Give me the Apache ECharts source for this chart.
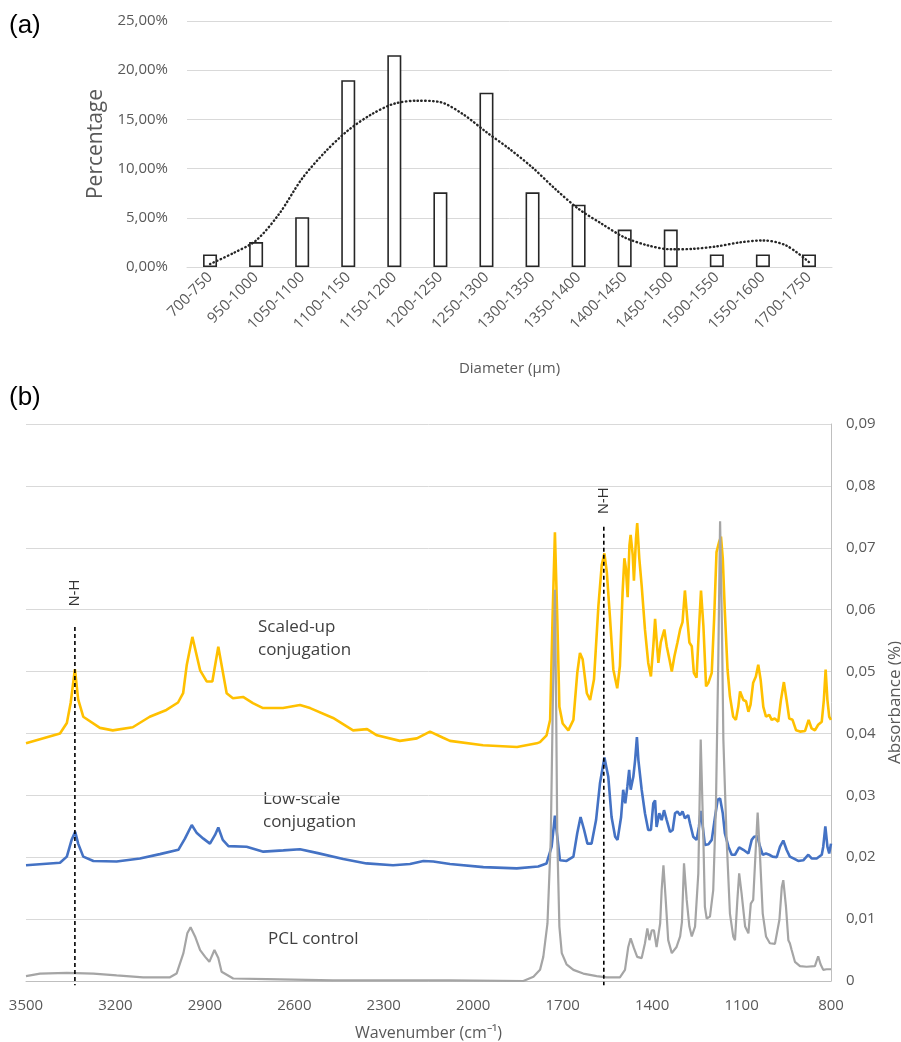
<!DOCTYPE html>
<html>
<head>
<meta charset="utf-8">
<title>Bead diameter and FTIR</title>
<script src="https://cdn.jsdelivr.net/npm/echarts@6/dist/echarts.min.js"></script>
<style>
  html, body { margin: 0; padding: 0; background: #fff; }
  #chart { width: 901px; height: 1042px; }
</style>
</head>
<body>
<div id="chart"></div>
<script>
// (a) diameter distribution
const diameterBins = ['700-750', '950-1000', '1050-1100', '1100-1150', '1150-1200', '1200-1250', '1250-1300',
  '1300-1350', '1350-1400', '1400-1450', '1450-1500', '1500-1550', '1550-1600', '1700-1750']
const binPercent = [1.27, 2.53, 5.06, 18.99, 21.52, 7.59, 17.72, 7.59, 6.33, 3.80, 3.80, 1.27, 1.27, 1.27]
// dotted trendline, read at every half category (position = category index)
const trendPos = [0, 0.5, 1, 1.5, 2, 2.5, 3, 3.5, 4, 4.5, 5, 5.5, 6, 6.5, 7, 7.5, 8, 8.5, 9, 9.5, 10, 10.5, 11, 11.5, 12, 12.5, 13]
const trendPercent = [0.3, 1.4, 2.7, 5.4, 9.0, 11.7, 13.9, 15.5, 16.6, 16.9, 16.75, 15.5, 13.7, 12.0, 10.1, 7.9,
  5.9, 4.4, 3.0, 2.2, 1.8, 1.85, 2.1, 2.5, 2.7, 2.2, 0.5]

// (b) FTIR spectra, [wavenumber, absorbance]
const scaledUp = [
  [3500, 0.0384], [3386, 0.0400], [3363, 0.0417], [3350, 0.0450], [3336, 0.0504], [3325, 0.0455], [3308, 0.0427],
  [3252, 0.0409], [3209, 0.0405], [3142, 0.0410], [3085, 0.0427], [3029, 0.0438], [2990, 0.0450], [2973, 0.0465],
  [2961, 0.0510], [2942, 0.0556], [2916, 0.0502], [2894, 0.0484], [2875, 0.0484], [2855, 0.0540], [2827, 0.0465],
  [2806, 0.0457], [2772, 0.0459], [2739, 0.0449], [2705, 0.0441], [2638, 0.0441], [2581, 0.0446], [2547, 0.0441],
  [2470, 0.0425], [2403, 0.0405], [2356, 0.0407], [2323, 0.0397], [2246, 0.0388], [2189, 0.0392], [2145, 0.0403],
  [2101, 0.0393], [2078, 0.0388], [1967, 0.0381], [1853, 0.0378], [1787, 0.0384], [1776, 0.0386], [1754, 0.0397],
  [1742, 0.0422], [1734, 0.0585], [1726, 0.0725], [1718, 0.0585], [1711, 0.0443], [1700, 0.0416], [1681, 0.0405],
  [1664, 0.0422], [1651, 0.0498], [1642, 0.0530], [1633, 0.0520], [1619, 0.0465], [1608, 0.0454], [1595, 0.0487],
  [1580, 0.0607], [1569, 0.0672], [1560, 0.0691], [1552, 0.0661], [1541, 0.0585], [1530, 0.0503], [1517, 0.0473],
  [1508, 0.0509], [1499, 0.0628], [1493, 0.0683], [1488, 0.0667], [1482, 0.0620], [1476, 0.0704], [1472, 0.0721],
  [1465, 0.0688], [1461, 0.0647], [1454, 0.0715], [1450, 0.0740], [1443, 0.0683], [1435, 0.0639], [1424, 0.0568],
  [1413, 0.0514], [1404, 0.0492], [1396, 0.0541], [1390, 0.0585], [1385, 0.0552], [1379, 0.0514], [1371, 0.0547],
  [1365, 0.0544], [1359, 0.0568], [1351, 0.0541], [1342, 0.0520], [1334, 0.0500], [1325, 0.0525], [1315, 0.0547],
  [1306, 0.0568], [1298, 0.0580], [1290, 0.0631], [1282, 0.0585], [1275, 0.0547], [1267, 0.0541], [1260, 0.0498],
  [1251, 0.0490], [1243, 0.0568], [1236, 0.0631], [1228, 0.0574], [1219, 0.0476], [1211, 0.0482], [1200, 0.0498],
  [1192, 0.0585], [1184, 0.0693], [1175, 0.0710], [1169, 0.0718], [1163, 0.0683], [1156, 0.0596], [1147, 0.0503],
  [1139, 0.0460], [1128, 0.0427], [1119, 0.0422], [1111, 0.0443], [1105, 0.0468], [1100, 0.0465], [1094, 0.0454],
  [1085, 0.0452], [1077, 0.0435], [1070, 0.0446], [1061, 0.0482], [1052, 0.0492], [1044, 0.0511], [1036, 0.0487],
  [1027, 0.0443], [1018, 0.0427], [1007, 0.0430], [999, 0.0422], [988, 0.0424], [977, 0.0419], [968, 0.0454],
  [958, 0.0483], [949, 0.0454], [940, 0.0424], [929, 0.0422], [917, 0.0405], [904, 0.0403], [887, 0.0404],
  [875, 0.0422], [865, 0.0408], [854, 0.0405], [843, 0.0414], [831, 0.0419], [824, 0.0454], [818, 0.0503],
  [812, 0.0454], [806, 0.0427], [800, 0.0422]
]
const lowScale = [
  [3500, 0.0187], [3386, 0.0191], [3363, 0.0201], [3347, 0.0228], [3335, 0.0241], [3325, 0.0222], [3308, 0.0201],
  [3274, 0.0194], [3196, 0.0193], [3118, 0.0198], [3051, 0.0205], [2989, 0.0212], [2967, 0.0230], [2944, 0.0252],
  [2927, 0.0239], [2905, 0.0230], [2883, 0.0222], [2866, 0.0236], [2855, 0.0248], [2840, 0.0228], [2821, 0.0218],
  [2760, 0.0217], [2704, 0.0209], [2637, 0.0211], [2581, 0.0213], [2525, 0.0207], [2436, 0.0197], [2358, 0.0190],
  [2269, 0.0187], [2212, 0.0189], [2167, 0.0194], [2134, 0.0193], [2078, 0.0189], [1966, 0.0184], [1854, 0.0182],
  [1782, 0.0185], [1754, 0.0190], [1737, 0.0217], [1726, 0.0267], [1718, 0.0233], [1709, 0.0195], [1687, 0.0194],
  [1664, 0.0201], [1651, 0.0239], [1640, 0.0265], [1628, 0.0244], [1617, 0.0222], [1603, 0.0222], [1588, 0.0260],
  [1575, 0.0319], [1560, 0.0361], [1547, 0.0330], [1536, 0.0265], [1524, 0.0233], [1516, 0.0228], [1504, 0.0265],
  [1497, 0.0309], [1490, 0.0287], [1483, 0.0314], [1477, 0.0341], [1472, 0.0309], [1463, 0.0330], [1457, 0.0357],
  [1451, 0.0394], [1446, 0.0357], [1435, 0.0309], [1424, 0.0271], [1413, 0.0244], [1404, 0.0244], [1396, 0.0287],
  [1390, 0.0292], [1385, 0.0249], [1376, 0.0271], [1368, 0.0260], [1360, 0.0276], [1351, 0.0260], [1340, 0.0241],
  [1331, 0.0244], [1323, 0.0271], [1315, 0.0274], [1306, 0.0268], [1298, 0.0274], [1290, 0.0263], [1279, 0.0268],
  [1273, 0.0255], [1262, 0.0233], [1251, 0.0228], [1243, 0.0249], [1237, 0.0275], [1230, 0.0249], [1223, 0.0220],
  [1211, 0.0221], [1200, 0.0228], [1189, 0.0265], [1180, 0.0293], [1172, 0.0295], [1163, 0.0271], [1156, 0.0239],
  [1144, 0.0217], [1133, 0.0204], [1122, 0.0204], [1108, 0.0216], [1094, 0.0212], [1077, 0.0206], [1066, 0.0228],
  [1058, 0.0233], [1047, 0.0234], [1038, 0.0217], [1029, 0.0204], [1018, 0.0206], [1007, 0.0204], [996, 0.0201],
  [982, 0.0200], [971, 0.0217], [960, 0.0227], [949, 0.0212], [938, 0.0201], [926, 0.0198], [910, 0.0194],
  [893, 0.0195], [876, 0.0204], [865, 0.0198], [848, 0.0198], [831, 0.0204], [826, 0.0217], [819, 0.0250],
  [812, 0.0217], [806, 0.0206], [800, 0.0222]
]
const pclControl = [
  [3500, 0.0008], [3453, 0.0012], [3363, 0.0013], [3274, 0.0012], [3196, 0.0009], [3107, 0.0006], [3017, 0.0006],
  [2995, 0.0012], [2972, 0.0045], [2959, 0.0077], [2948, 0.0087], [2933, 0.0072], [2916, 0.0050], [2899, 0.0039],
  [2885, 0.0031], [2868, 0.0050], [2855, 0.0037], [2844, 0.0015], [2805, 0.0004], [2693, 0.0003], [2470, 0.0001],
  [2078, 0.0001], [1832, 0.0000], [1798, 0.0007], [1776, 0.0018], [1765, 0.0039], [1751, 0.0093], [1740, 0.0228],
  [1733, 0.0450], [1726, 0.0632], [1722, 0.0450], [1718, 0.0228], [1711, 0.0088], [1703, 0.0045], [1687, 0.0027],
  [1664, 0.0018], [1631, 0.0012], [1586, 0.0008], [1552, 0.0006], [1508, 0.0006], [1491, 0.0018], [1480, 0.0055],
  [1472, 0.0069], [1461, 0.0053], [1450, 0.0039], [1435, 0.0037], [1424, 0.0061], [1416, 0.0085], [1409, 0.0066],
  [1401, 0.0082], [1394, 0.0082], [1385, 0.0055], [1373, 0.0093], [1368, 0.0147], [1362, 0.0187], [1355, 0.0136],
  [1346, 0.0066], [1334, 0.0045], [1318, 0.0055], [1306, 0.0072], [1300, 0.0095], [1293, 0.0190], [1284, 0.0131],
  [1275, 0.0088], [1267, 0.0072], [1256, 0.0088], [1245, 0.0174], [1237, 0.0390], [1228, 0.0228], [1223, 0.0120],
  [1217, 0.0101], [1206, 0.0104], [1195, 0.0147], [1186, 0.0282], [1178, 0.0520], [1172, 0.0743], [1166, 0.0580],
  [1161, 0.0390], [1155, 0.0300], [1150, 0.0228], [1139, 0.0109], [1128, 0.0072], [1122, 0.0066], [1114, 0.0131],
  [1108, 0.0174], [1100, 0.0142], [1088, 0.0088], [1077, 0.0077], [1069, 0.0125], [1061, 0.0131], [1052, 0.0217],
  [1046, 0.0272], [1038, 0.0201], [1029, 0.0109], [1018, 0.0072], [1005, 0.0061], [988, 0.0060], [973, 0.0099],
  [965, 0.0152], [960, 0.0163], [951, 0.0120], [943, 0.0066], [938, 0.0061], [932, 0.0050], [921, 0.0031],
  [904, 0.0024], [882, 0.0023], [854, 0.0024], [843, 0.0040], [835, 0.0027], [826, 0.0018], [815, 0.0019],
  [800, 0.0019]
]
// N-H marker lines: wavenumber, top and bottom of dashed line, label position
const nhWavenumber = [3336, 1562]
const nhLineTop = [0.0572, 0.0734]
const nhLineBottom = -0.0007
const nhLabelY = [0.0627, 0.0776]

const axisGrey = '#595959'
const txtFont = 'Open Sans'

function commaFmt(v, digits) {
  return v.toFixed(digits).replace('.', ',')
}

const chart = echarts.init(document.getElementById('chart'), null, { renderer: 'canvas' })

// one dashed series for each N-H line
const nhSeries = nhWavenumber.map((wn, i) => ({
  name: 'N-H line ' + (i + 1),
  type: 'line',
  xAxisIndex: 1,
  yAxisIndex: 1,
  data: [[wn, nhLineTop[i]], [wn, nhLineBottom]],
  symbol: 'none',
  clip: false,
  silent: true,
  z: 5,
  lineStyle: { color: '#000', type: [4, 3], width: 1.6 }
}))

chart.setOption({
  animation: false,
  textStyle: { fontFamily: txtFont },
  grid: [
    { left: 187, top: 21, width: 645, height: 246, outerBoundsMode: 'none' },
    { left: 26, top: 424, width: 805, height: 557, outerBoundsMode: 'none' }
  ],
  xAxis: [
    {
      gridIndex: 0,
      type: 'category',
      data: diameterBins,
      axisLine: { lineStyle: { color: '#d9d9d9', width: 1 } },
      axisTick: { show: false },
      axisLabel: { rotate: 45, color: axisGrey, fontSize: 15, margin: 8, interval: 0 },
      name: 'Diameter (µm)',
      nameLocation: 'middle',
      nameGap: 94,
      nameTextStyle: { color: axisGrey, fontSize: 15 }
    },
    {
      gridIndex: 1,
      type: 'value',
      min: 800,
      max: 3500,
      interval: 300,
      inverse: true,
      splitLine: { show: false },
      axisLine: { lineStyle: { color: '#bfbfbf', width: 1 } },
      axisTick: { show: false },
      axisLabel: { color: axisGrey, fontSize: 15, margin: 17, formatter: v => String(v) },
      name: 'Wavenumber (cm⁻¹)',
      nameLocation: 'middle',
      nameGap: 44,
      nameTextStyle: { color: axisGrey, fontSize: 16 }
    },
    {
      // hidden positional axis for the trendline of panel (a)
      gridIndex: 0,
      type: 'value',
      min: -0.5,
      max: 13.5,
      show: false
    }
  ],
  yAxis: [
    {
      gridIndex: 0,
      type: 'value',
      min: 0,
      max: 25,
      interval: 5,
      axisLine: { show: false },
      axisTick: { show: false },
      splitLine: { lineStyle: { color: '#d9d9d9', width: 1 } },
      axisLabel: { color: axisGrey, fontSize: 15, margin: 19, formatter: v => commaFmt(v, 2) + '%' },
      name: 'Percentage',
      nameLocation: 'middle',
      nameRotate: 90,
      nameGap: 80,
      nameTextStyle: { color: axisGrey, fontSize: 21 }
    },
    {
      gridIndex: 1,
      type: 'value',
      position: 'right',
      min: 0,
      max: 0.09,
      interval: 0.01,
      axisLine: { show: true, lineStyle: { color: '#bfbfbf', width: 1 } },
      axisTick: { show: false },
      splitLine: { lineStyle: { color: '#d9d9d9', width: 1 } },
      axisLabel: {
        color: axisGrey, fontSize: 15, margin: 15,
        formatter: v => (Math.abs(v) < 1e-9 ? '0' : commaFmt(v, 2))
      },
      name: 'Absorbance (%)',
      nameLocation: 'middle',
      nameRotate: 90,
      nameGap: 52,
      nameTextStyle: { color: axisGrey, fontSize: 17 }
    }
  ],
  graphic: [
    { type: 'text', left: 9, top: 13, style: { text: '(a)', font: '26px "Liberation Sans"', fill: '#000' } },
    { type: 'text', left: 9, top: 385, style: { text: '(b)', font: '26px "Liberation Sans"', fill: '#000' } },
    { type: 'text', left: 258, top: 616, style: { text: 'Scaled-up\nconjugation', font: '17px "Open Sans"', lineHeight: 23, fill: '#404040' } },
    { type: 'text', left: 263, top: 788, style: { text: 'Low-scale\nconjugation', font: '17px "Open Sans"', lineHeight: 23, fill: '#404040' } },
    { type: 'text', left: 268, top: 931, style: { text: 'PCL control', font: '17px "Open Sans"', fill: '#404040' } }
  ],
  series: [
    {
      name: 'Percentage',
      type: 'bar',
      xAxisIndex: 0,
      yAxisIndex: 0,
      data: binPercent,
      barWidth: 14,
      itemStyle: { color: '#ffffff', borderColor: '#262626', borderWidth: 1.6 }
    },
    {
      name: 'Trend',
      type: 'line',
      xAxisIndex: 2,
      yAxisIndex: 0,
      data: trendPos.map((p, i) => [p, trendPercent[i]]),
      smooth: 0.3,
      symbol: 'none',
      z: 3,
      lineStyle: { color: '#262626', width: 2.4, type: [0.5, 3.4], cap: 'round' }
    },
    {
      name: 'Scaled-up conjugation',
      type: 'line',
      xAxisIndex: 1,
      yAxisIndex: 1,
      data: scaledUp,
      symbol: 'none',
      lineStyle: { color: '#ffc000', width: 2.6 }
    },
    {
      name: 'Low-scale conjugation',
      type: 'line',
      xAxisIndex: 1,
      yAxisIndex: 1,
      data: lowScale,
      symbol: 'none',
      lineStyle: { color: '#4472c4', width: 2.6 }
    },
    {
      name: 'PCL control',
      type: 'line',
      xAxisIndex: 1,
      yAxisIndex: 1,
      data: pclControl,
      symbol: 'none',
      lineStyle: { color: '#a5a5a5', width: 2.2 }
    },
    ...nhSeries,
    {
      name: 'N-H',
      type: 'scatter',
      xAxisIndex: 1,
      yAxisIndex: 1,
      data: nhWavenumber.map((wn, i) => [wn, nhLabelY[i]]),
      symbolSize: 1,
      itemStyle: { color: 'transparent' },
      label: {
        show: true,
        position: 'inside',
        rotate: 90,
        formatter: 'N-H',
        color: '#000',
        fontSize: 15,
        fontFamily: 'Liberation Sans'
      }
    }
  ]
})
</script>
</body>
</html>
